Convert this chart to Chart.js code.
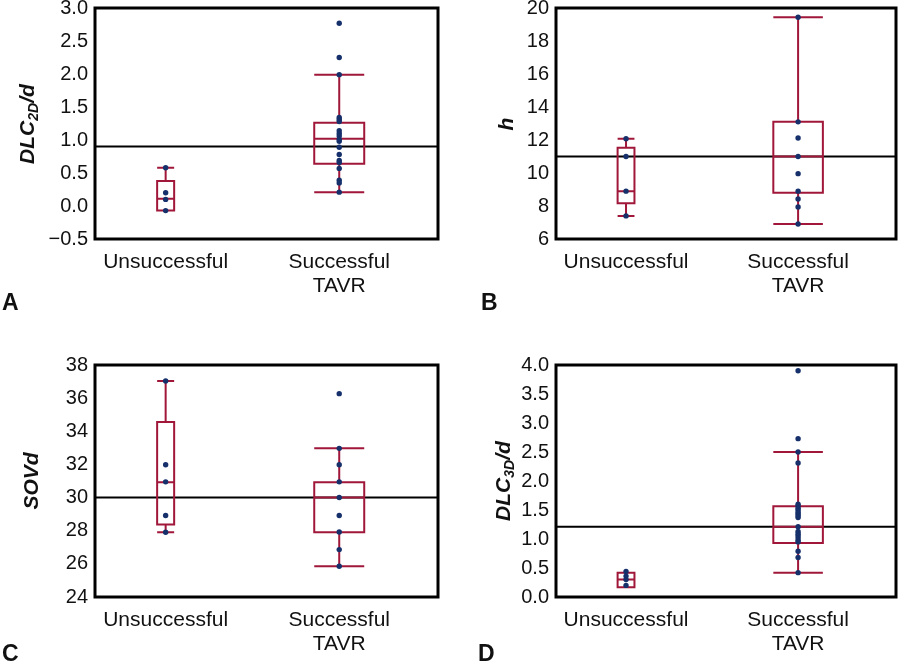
<!DOCTYPE html>
<html><head><meta charset="utf-8">
<script src="https://cdn.jsdelivr.net/npm/chart.js@4/dist/chart.umd.min.js"></script>
<style>
html,body{margin:0;padding:0;background:#fff;}
#wrap{position:relative;width:900px;height:666px;overflow:hidden;font-family:"Liberation Sans",Arial,Helvetica,sans-serif;}
canvas{position:absolute;}
.ytitle{position:absolute;white-space:nowrap;font-weight:bold;font-style:italic;font-size:21px;line-height:1;color:#111;transform:translate(-50%,-50%) rotate(-90deg);}
.ytitle sub{font-size:14px;line-height:0;vertical-align:-0.3em;}
.plabel{position:absolute;font-weight:bold;font-size:23px;line-height:1;color:#111;}
</style></head>
<body><div id="wrap">
<canvas id="cA" width="450" height="333" style="left:0;top:0"></canvas>
<canvas id="cB" width="450" height="333" style="left:450px;top:0"></canvas>
<canvas id="cC" width="450" height="333" style="left:0;top:333px"></canvas>
<canvas id="cD" width="450" height="333" style="left:450px;top:333px"></canvas>
<div class="ytitle" style="left:26px;top:124px">DLC<sub>2D</sub>/d</div>
<div class="ytitle" style="left:505px;top:124px">h</div>
<div class="ytitle" style="left:30px;top:481px">SOVd</div>
<div class="ytitle" style="left:502px;top:481px">DLC<sub>3D</sub>/d</div>
<div class="plabel" style="left:2px;top:291px">A</div>
<div class="plabel" style="left:481px;top:291px">B</div>
<div class="plabel" style="left:2px;top:642px">C</div>
<div class="plabel" style="left:478px;top:642px">D</div>
</div>
<script>
// ---- data ----
const categories = ['Unsuccessful', ['Successful', 'TAVR']];
const categoryPos = [0, 1];

// box stats: [whisker low, Q1, median, Q3, whisker high]
// Panel A: DLC2D/d
const dlc2dYTicks = [-0.5, 0, 0.5, 1, 1.5, 2, 2.5, 3];
const dlc2dRef = 0.9;
const dlc2dUnsuccBox = [-0.07, -0.07, 0.11, 0.38, 0.58];
const dlc2dSuccBox = [0.21, 0.64, 1.02, 1.26, 1.99];
const dlc2dUnsuccPts = [0.58, 0.20, 0.10, -0.07];
const dlc2dSuccPts = [2.77, 2.25, 1.99, 1.34, 1.31, 1.28, 1.14, 1.10, 1.06, 1.01, 0.98, 0.89, 0.78, 0.69, 0.66, 0.57, 0.39, 0.35, 0.21];

// Panel B: h
const hYTicks = [6, 8, 10, 12, 14, 16, 18, 20];
const hRef = 11.0;
const hUnsuccBox = [7.4, 8.16, 8.9, 11.53, 12.08];
const hSuccBox = [6.91, 8.81, 11.0, 13.11, 19.44];
const hUnsuccPts = [12.08, 11.0, 8.9, 7.4];
const hSuccPts = [19.44, 13.1, 12.12, 11.0, 9.96, 8.9, 8.42, 7.94, 6.91];

// Panel C: SOVd
const sovYTicks = [24, 26, 28, 30, 32, 34, 36, 38];
const sovRef = 30.0;
const sovUnsuccBox = [27.91, 28.37, 30.93, 34.56, 37.03];
const sovSuccBox = [25.86, 27.9, 30.0, 30.93, 32.97];
const sovUnsuccPts = [37.03, 31.98, 30.95, 28.92, 27.91];
const sovSuccPts = [36.27, 32.97, 31.98, 30.95, 30.0, 28.92, 27.92, 26.86, 25.86];

// Panel D: DLC3D/d
const dlc3dYTicks = [0, 0.5, 1, 1.5, 2, 2.5, 3, 3.5, 4];
const dlc3dRef = 1.21;
const dlc3dUnsuccBox = [0.17, 0.17, 0.30, 0.42, 0.42];
const dlc3dSuccBox = [0.42, 0.93, 1.21, 1.565, 2.50];
const dlc3dUnsuccPts = [0.44, 0.36, 0.30, 0.20];
const dlc3dSuccPts = [3.90, 2.73, 2.50, 2.31, 1.60, 1.57, 1.53, 1.50, 1.46, 1.43, 1.40, 1.37, 1.21, 1.13, 1.09, 1.06, 1.02, 0.98, 0.95, 0.79, 0.68, 0.42];

// ---- styles / layout ----
const FONT = '"Liberation Sans", Arial, Helvetica, sans-serif';
const RED = '#A0173A';
const NAVY = '#16306B';
const X_MIN = -0.407, X_MAX = 1.569;
const BOX_HALF = [0.049, 0.144];

const framePlugin = {
  id: 'frame',
  afterDatasetsDraw(chart) {
    const { ctx, chartArea: a } = chart;
    ctx.save();
    ctx.strokeStyle = '#000';
    ctx.lineWidth = 3;
    ctx.strokeRect(a.left, a.top, a.right - a.left, a.bottom - a.top);
    ctx.restore();
  }
};

function boxSegments(pos, s, hw) {
  const [lo, q1, med, q3, hi] = s;
  const P = (x, y) => ({ x, y });
  const gap = { x: pos, y: null };
  return [P(pos - hw, q1), P(pos + hw, q1), P(pos + hw, q3), P(pos - hw, q3), P(pos - hw, q1), P(pos + hw, q1), gap,
    P(pos - hw, med), P(pos + hw, med), gap,
    P(pos, q3), P(pos, hi), gap, P(pos - hw, hi), P(pos + hw, hi), gap,
    P(pos, q1), P(pos, lo), gap, P(pos - hw, lo), P(pos + hw, lo)];
}

function fmt(v, dec) {
  return v.toFixed(dec).replace('-', '\u2212');
}

function noPad(s) {
  s.paddingTop = 0; s.paddingBottom = 0; s.paddingLeft = 0; s.paddingRight = 0;
}

function makePanel(id, L, yTicks, ref, boxes, pts) {
  const datasets = [];
  pts.forEach((arr, i) => {
    datasets.push({
      data: arr.map(v => ({ x: categoryPos[i], y: v })),
      showLine: false, pointRadius: 2.7, pointBackgroundColor: NAVY, pointBorderWidth: 0, order: 0
    });
  });
  boxes.forEach((s, i) => {
    datasets.push({
      data: boxSegments(categoryPos[i], s, BOX_HALF[i]),
      showLine: true, spanGaps: false, pointRadius: 0, borderColor: RED, borderWidth: 2,
      borderCapStyle: 'butt', borderJoinStyle: 'miter', tension: 0, fill: false, order: 1
    });
  });
  datasets.push({
    data: [{ x: X_MIN, y: ref }, { x: X_MAX, y: ref }],
    showLine: true, pointRadius: 0, borderColor: '#000', borderWidth: 2, fill: false, order: 2
  });

  new Chart(document.getElementById(id), {
    type: 'scatter',
    data: { datasets },
    plugins: [framePlugin],
    options: {
      responsive: false, animation: false, events: [],
      layout: { padding: { top: L.padTop, right: L.padRight, left: 0, bottom: 0 } },
      plugins: { legend: { display: false }, tooltip: { enabled: false } },
      scales: {
        x: {
          type: 'linear', min: X_MIN, max: X_MAX,
          afterBuildTicks: s => { s.ticks = categoryPos.map(v => ({ value: v })); },
          afterFit: s => { s.height = L.xH; noPad(s); },
          grid: { display: false, drawTicks: false }, border: { display: false },
          ticks: {
            padding: 11, autoSkip: false, maxRotation: 0, minRotation: 0, color: '#111',
            font: { family: FONT, size: 21, lineHeight: 1.15 },
            callback: (v, i) => categories[i]
          }
        },
        y: {
          type: 'linear', min: yTicks[0], max: yTicks[yTicks.length - 1],
          afterBuildTicks: s => { s.ticks = yTicks.map(v => ({ value: v })); },
          afterFit: s => { s.width = L.yW; noPad(s); },
          grid: { display: false, drawTicks: false }, border: { display: false },
          ticks: {
            padding: 7, color: '#111', font: { family: FONT, size: 20 },
            callback: v => fmt(v, L.dec)
          }
        }
      }
    }
  });
}

makePanel('cA', { yW: 95, padTop: 8, padRight: 12, xH: 94, dec: 1 }, dlc2dYTicks, dlc2dRef,
  [dlc2dUnsuccBox, dlc2dSuccBox], [dlc2dUnsuccPts, dlc2dSuccPts]);
makePanel('cB', { yW: 106, padTop: 8, padRight: 2, xH: 94, dec: 0 }, hYTicks, hRef,
  [hUnsuccBox, hSuccBox], [hUnsuccPts, hSuccPts]);
makePanel('cC', { yW: 95, padTop: 32, padRight: 12, xH: 69, dec: 0 }, sovYTicks, sovRef,
  [sovUnsuccBox, sovSuccBox], [sovUnsuccPts, sovSuccPts]);
makePanel('cD', { yW: 106, padTop: 32, padRight: 2, xH: 69, dec: 1 }, dlc3dYTicks, dlc3dRef,
  [dlc3dUnsuccBox, dlc3dSuccBox], [dlc3dUnsuccPts, dlc3dSuccPts]);
</script>
</body></html>
